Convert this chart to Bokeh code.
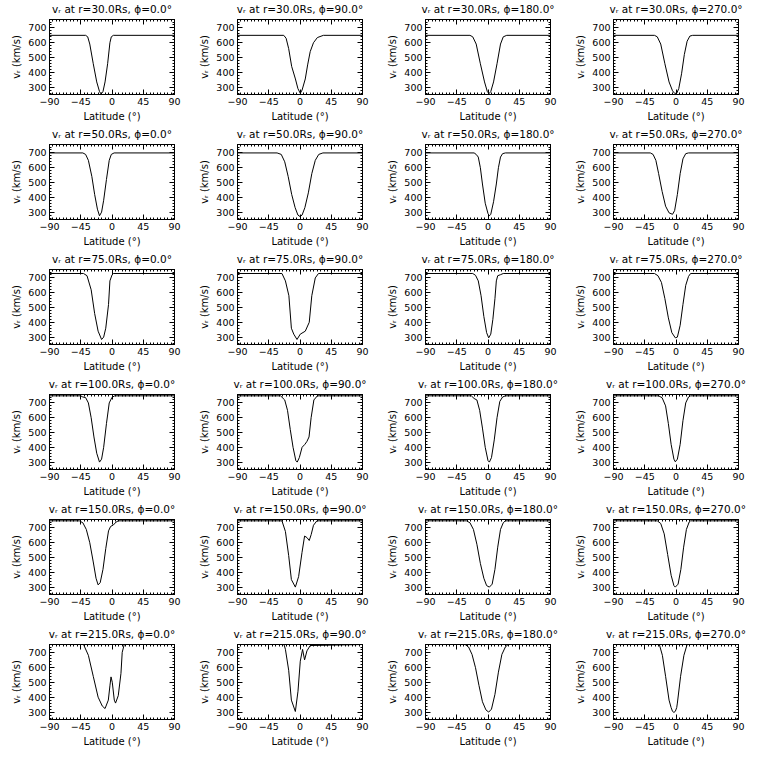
from bokeh.plotting import figure
from bokeh.layouts import gridplot
from bokeh.models import FixedTicker, LinearAxis, Range1d, CustomLabelingPolicy
from bokeh.embed import file_html
from bokeh.resources import INLINE

radii = [30.0, 50.0, 75.0, 100.0, 150.0, 215.0]
phis = [0.0, 90.0, 180.0, 270.0]
x_ticks = [-90, -45, 0, 45, 90]
x_minor = list(range(-90, 91, 5))
y_ticks = [300, 400, 500, 600, 700]
y_minor = list(range(260, 761, 20))
y_lo, y_hi = 250, 757

# r = 30 Rs
lat_30_0 = [-90, -38, -35, -32, -27, -22, -18, -15.7, -13, -10, -6.3, -3, -1, 2, 90]
v_30_0 = [650, 650, 640, 591, 458, 335, 270, 253, 270, 335, 458, 600, 640, 650, 650]
lat_30_90 = [-90, -23.4, -20, -16.3, -12, -6.6, -3, 0.4, 3, 7.6, 11, 14.7, 19.4, 25, 33.7, 90]
v_30_90 = [650, 650, 630, 560, 440, 355, 290, 258, 280, 355, 450, 540, 600, 635, 650, 650]
lat_30_180 = [-90, -26, -22, -17, -11, -5, -1, 1.5, 4, 8, 13, 18, 22, 27, 90]
v_30_180 = [650, 650, 640, 591, 458, 335, 270, 256, 270, 335, 458, 591, 640, 650, 650]
lat_30_270 = [-90, -31, -27, -22, -16, -10, -5, -2, 1, 4, 8, 12, 16, 20, 24, 90]
v_30_270 = [650, 650, 640, 591, 458, 335, 275, 258, 258, 290, 390, 520, 610, 645, 650, 650]

# r = 50 Rs
lat_50_0 = [-90, -42, -38, -34, -29, -25, -21, -18, -15, -12, -8, -4, -1, 3, 90]
v_50_0 = [700, 700, 690, 650, 540, 420, 320, 275, 300, 380, 520, 650, 690, 700, 700]
lat_50_90 = [-90, -33, -27, -22, -17, -12, -7, -3, 0, 3, 7, 12, 17, 22, 27, 33, 90]
v_50_90 = [700, 700, 690, 640, 540, 420, 330, 280, 270, 280, 330, 430, 560, 650, 690, 700, 700]
lat_50_180 = [-90, -20, -17, -14, -11, -8, -4, 0, 2, 4, 8, 12, 15, 18, 21, 25, 90]
v_50_180 = [700, 700, 690, 672, 600, 490, 360, 290, 275, 285, 370, 490, 600, 672, 695, 700, 700]
lat_50_270 = [-90, -37, -33, -29, -25, -20, -15, -10, -5, -2, 2, 6, 10, 14, 18, 90]
v_50_270 = [700, 700, 690, 650, 560, 440, 340, 295, 285, 310, 420, 560, 660, 695, 700, 700]

# r = 75 Rs
lat_75_0 = [-90, -41, -36, -30, -25, -20, -15, -12, -9, -5, -3, 0, 2, 90]
v_75_0 = [730, 730, 715, 620, 460, 340, 284, 300, 360, 520, 680, 720, 730, 730]
lat_75_90 = [-90, -26, -21, -16, -12.4, -9, -4.3, 0.4, 7.6, 13.3, 17, 22, 26.6, 90]
v_75_90 = [730, 730, 680, 580, 360, 320, 284, 320, 340, 400, 580, 700, 730, 730]
lat_75_180 = [-90, -22, -18, -14, -10, -6, -2, 1, 4, 7, 10, 12, 14, 18, 22, 90]
v_75_180 = [730, 730, 718, 680, 580, 440, 330, 295, 320, 420, 560, 680, 715, 722, 730, 730]
lat_75_270 = [-90, -31, -26, -21, -16, -11, -6, -1, 2, 6, 10, 14, 18, 21, 90]
v_75_270 = [730, 730, 715, 670, 560, 430, 330, 295, 300, 380, 520, 650, 710, 730, 730]

# r = 100 Rs
lat_100_0 = [-90, -45, -42, -38, -34, -30, -26, -22, -18, -15, -12, -8, -4, 0, 4, 90]
v_100_0 = [748, 748, 740, 736, 700, 600, 470, 360, 300, 320, 400, 560, 700, 738, 748, 748]
lat_100_90 = [-90, -28, -22, -18, -14, -10, -6, -4, -1, 3, 7, 10, 13, 16, 20, 25, 90]
v_100_90 = [748, 748, 720, 650, 520, 400, 310, 300, 330, 400, 420, 440, 470, 600, 720, 748, 748]
lat_100_180 = [-90, -24, -20, -16, -12, -8, -4, 0, 2, 5, 9, 13, 17, 21, 25, 90]
v_100_180 = [748, 748, 730, 720, 650, 530, 400, 310, 300, 330, 450, 600, 710, 740, 748, 748]
lat_100_270 = [-90, -25, -20, -15, -11, -7, -3, -1, 2, 6, 10, 14, 18, 21, 90]
v_100_270 = [748, 748, 735, 680, 560, 420, 320, 302, 320, 420, 580, 700, 740, 748, 748]

# r = 150 Rs
lat_150_0 = [-90, -47, -42, -37, -32, -27, -23, -20, -17, -13, -9, -5, -2, 2, 6, 9, 90]
v_150_0 = [748, 748, 735, 690, 600, 470, 360, 315, 330, 420, 560, 680, 710, 720, 740, 748, 748]
lat_150_90 = [-90, -26, -21, -16.3, -12.4, -6.7, -2, 2.9, 6.6, 10, 13.3, 16.1, 19.4, 24.3, 90]
v_150_90 = [748, 748, 676, 513, 351, 300, 371, 534, 645, 635, 615, 655, 718, 748, 748]
lat_150_180 = [-90, -31, -26, -21, -16, -11, -6, -2, 2, 6, 10, 14, 18, 22, 25, 90]
v_150_180 = [748, 748, 735, 690, 590, 460, 360, 310, 300, 320, 420, 570, 690, 735, 748, 748]
lat_150_270 = [-90, -27, -22, -17, -12, -7, -3, -1, 3, 7, 11, 15, 19, 21, 90]
v_150_270 = [748, 748, 730, 660, 520, 380, 310, 300, 320, 420, 570, 690, 740, 748, 748]

# r = 215 Rs
lat_215_0 = [-90, -41, -34, -27, -20, -14, -10, -5.3, -2.9, -1.4, 0.4, 3.3, 5.1, 9, 12.9, 14.7, 17.6, 90]
v_215_0 = [757, 757, 684, 542, 401, 341, 324, 381, 482, 538, 502, 381, 361, 411, 562, 704, 757, 757]
lat_215_90 = [-90, -23, -21, -16.3, -12.4, -6.7, -2.9, 0.4, 3.7, 6.6, 10, 14.7, 90]
v_215_90 = [757, 757, 724, 583, 381, 304, 441, 644, 724, 653, 714, 750, 757]
lat_215_180 = [-90, -33, -28, -23, -18, -13, -8, -3, 1, 5, 10, 15, 20, 25, 29, 90]
v_215_180 = [757, 757, 740, 690, 600, 480, 370, 315, 300, 320, 420, 570, 690, 740, 757, 757]
lat_215_270 = [-90, -24, -19.6, -15, -10, -7, -5, -3, -1, 1, 2, 6.6, 11.4, 16, 90]
v_215_270 = [757, 757, 684, 542, 381, 330, 305, 298, 305, 330, 361, 542, 684, 757, 757]

series = {
    (30.0, 0.0): (lat_30_0, v_30_0), (30.0, 90.0): (lat_30_90, v_30_90),
    (30.0, 180.0): (lat_30_180, v_30_180), (30.0, 270.0): (lat_30_270, v_30_270),
    (50.0, 0.0): (lat_50_0, v_50_0), (50.0, 90.0): (lat_50_90, v_50_90),
    (50.0, 180.0): (lat_50_180, v_50_180), (50.0, 270.0): (lat_50_270, v_50_270),
    (75.0, 0.0): (lat_75_0, v_75_0), (75.0, 90.0): (lat_75_90, v_75_90),
    (75.0, 180.0): (lat_75_180, v_75_180), (75.0, 270.0): (lat_75_270, v_75_270),
    (100.0, 0.0): (lat_100_0, v_100_0), (100.0, 90.0): (lat_100_90, v_100_90),
    (100.0, 180.0): (lat_100_180, v_100_180), (100.0, 270.0): (lat_100_270, v_100_270),
    (150.0, 0.0): (lat_150_0, v_150_0), (150.0, 90.0): (lat_150_90, v_150_90),
    (150.0, 180.0): (lat_150_180, v_150_180), (150.0, 270.0): (lat_150_270, v_150_270),
    (215.0, 0.0): (lat_215_0, v_215_0), (215.0, 90.0): (lat_215_90, v_215_90),
    (215.0, 180.0): (lat_215_180, v_215_180), (215.0, 270.0): (lat_215_270, v_215_270),
}

FONT = "DejaVu Sans"

HIDE_ALL = "for (const i of Array.from(indices)) { indices.unset(i) } return indices"


def style_axis(ax, show_labels):
    ax.axis_line_color = "black"
    ax.major_tick_line_color = "black"
    ax.minor_tick_line_color = "black"
    ax.major_tick_in = 5
    ax.major_tick_out = 0
    ax.minor_tick_in = 2
    ax.minor_tick_out = 0
    ax.major_label_text_font = FONT
    ax.major_label_text_color = "black"
    ax.axis_label_text_font = FONT
    ax.axis_label_text_font_style = "normal"
    ax.axis_label_text_color = "black"
    ax.axis_label_text_font_size = "10px"
    if show_labels:
        ax.major_label_text_font_size = "9.5px"
        ax.major_label_standoff = 3
        ax.axis_label_standoff = 3
    else:
        ax.major_label_text_font_size = "1px"
        ax.major_label_standoff = 0
        ax.major_label_policy = CustomLabelingPolicy(code=HIDE_ALL)


def make_panel(r, phi):
    lat, v = series[(r, phi)]
    p = figure(width=188, height=125, output_backend="svg", toolbar_location=None,
               x_range=Range1d(-90, 90), y_range=Range1d(y_lo, y_hi),
               min_border_left=49, min_border_right=14, min_border_top=0,
               min_border_bottom=31)
    p.title.text = f"v\u1d63 at r={r:.1f}Rs, \u03d5={phi:.1f}\u00b0"
    p.title.align = "center"
    p.title.text_font = FONT
    p.title.text_font_style = "normal"
    p.title.text_font_size = "10.5px"
    p.title.text_color = "black"
    p.title.standoff = 1
    p.title.offset = 0
    p.background_fill_color = "white"
    p.border_fill_color = "white"
    p.outline_line_color = "black"
    p.outline_line_width = 1
    p.grid.visible = False

    p.xaxis.ticker = FixedTicker(ticks=x_ticks, minor_ticks=x_minor)
    p.yaxis.ticker = FixedTicker(ticks=y_ticks, minor_ticks=y_minor)
    p.xaxis.axis_label = "Latitude (\u00b0)"
    p.yaxis.axis_label = "v\u1d63 (km/s)"
    style_axis(p.xaxis[0], True)
    style_axis(p.yaxis[0], True)

    top = LinearAxis(ticker=FixedTicker(ticks=x_ticks, minor_ticks=x_minor))
    right = LinearAxis(ticker=FixedTicker(ticks=y_ticks, minor_ticks=y_minor))
    style_axis(top, False)
    style_axis(right, False)
    p.add_layout(top, "above")
    p.add_layout(right, "right")

    p.line(lat, v, line_color="black", line_width=1)
    return p


panels = [make_panel(r, phi) for r in radii for phi in phis]
grid = gridplot(panels, ncols=4, toolbar_location=None)

open("out.html", "w").write(file_html(grid, INLINE))
